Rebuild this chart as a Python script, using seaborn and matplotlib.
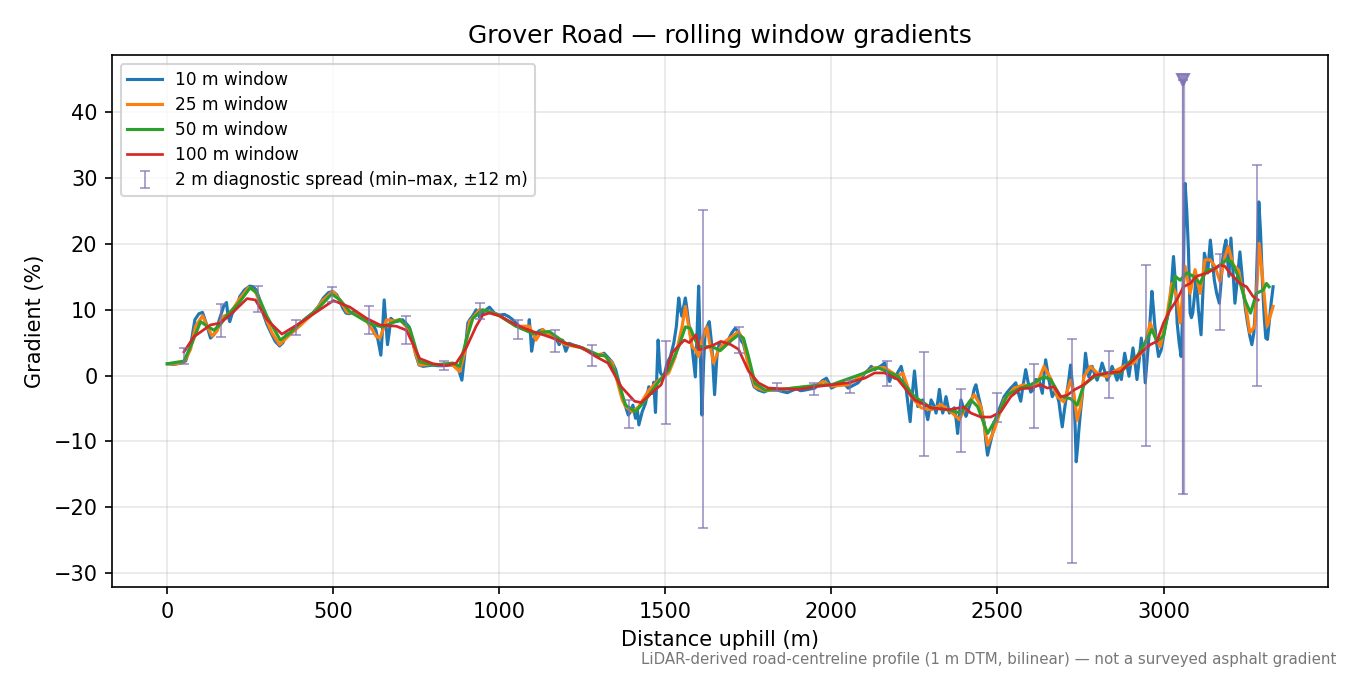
import numpy as np
import pandas as pd
import matplotlib
matplotlib.use("Agg")
import matplotlib.pyplot as plt
import seaborn as sns

# ---------------- data ----------------
d10 = [0, 20, 40, 55, 70, 83, 95, 106, 118, 130, 140, 148, 156, 163, 170, 178, 183, 188, 195, 202,
       210, 218, 232, 248, 258, 268, 278, 288, 300, 313, 325, 338, 348, 358, 370, 383, 395, 405, 413, 425,
       438, 455, 470, 485, 498, 510, 518, 528, 538, 548, 560, 572, 583, 595, 608, 618, 628, 636, 643, 648,
       653, 658, 663, 668, 673, 680, 688, 698, 708, 718, 728, 738, 748, 758, 770, 785, 800, 815, 830, 845,
       860, 870, 877, 887, 895, 905, 912, 920, 930, 940, 955, 970, 985, 1000, 1015, 1030, 1040, 1050, 1065, 1080,
       1087, 1090, 1094, 1097, 1103, 1110, 1120, 1130, 1140, 1150, 1160, 1170, 1180, 1190, 1200, 1210, 1225, 1240, 1255, 1270,
       1285, 1300, 1315, 1330, 1340, 1350, 1360, 1370, 1380, 1388, 1395, 1402, 1410, 1415, 1420, 1425, 1430, 1440, 1450, 1460,
       1465, 1470, 1474, 1478, 1482, 1485, 1495, 1505, 1515, 1525, 1533, 1540, 1545, 1550, 1555, 1560, 1565, 1570, 1580, 1590,
       1595, 1600, 1605, 1610, 1615, 1620, 1625, 1632, 1640, 1648, 1655, 1662, 1670, 1680, 1690, 1700, 1710, 1720, 1727, 1735,
       1747, 1757, 1767, 1780, 1797, 1810, 1820, 1837, 1850, 1867, 1880, 1895, 1907, 1920, 1940, 1950, 1960, 1972, 1985, 1993,
       2000, 2015, 2030, 2040, 2050, 2065, 2080, 2090, 2100, 2110, 2120, 2130, 2140, 2150, 2160, 2168, 2175, 2182, 2190, 2200,
       2210, 2218, 2225, 2231, 2237, 2243, 2250, 2255, 2260, 2268, 2275, 2283, 2290, 2296, 2300, 2308, 2315, 2320, 2325, 2330,
       2335, 2340, 2345, 2350, 2355, 2362, 2370, 2375, 2380, 2385, 2390, 2398, 2405, 2410, 2415, 2420, 2425, 2430, 2435, 2442,
       2450, 2455, 2460, 2465, 2470, 2477, 2485, 2492, 2500, 2510, 2520, 2530, 2540, 2548, 2555, 2562, 2570, 2577, 2585, 2592,
       2600, 2607, 2615, 2625, 2635, 2640, 2645, 2650, 2655, 2665, 2675, 2685, 2690, 2695, 2700, 2705, 2710, 2715, 2720, 2725,
       2730, 2734, 2737, 2741, 2745, 2750, 2755, 2760, 2765, 2770, 2775, 2785, 2792, 2800, 2808, 2815, 2822, 2830, 2837, 2845,
       2852, 2860, 2866, 2873, 2878, 2883, 2890, 2896, 2902, 2908, 2914, 2920, 2927, 2933, 2940, 2945, 2953, 2959, 2965, 2969,
       2973, 2979, 2985, 2993, 3000, 3005, 3012, 3018, 3025, 3030, 3036, 3041, 3047, 3053, 3058, 3061, 3065, 3070, 3075, 3080,
       3084, 3088, 3093, 3098, 3105, 3113, 3118, 3123, 3128, 3133, 3137, 3141, 3147, 3153, 3160, 3168, 3173, 3178, 3183, 3188,
       3193, 3197, 3200, 3203, 3209, 3215, 3222, 3230, 3236, 3241, 3247, 3253, 3260, 3266, 3272, 3278, 3283, 3287, 3292, 3298,
       3303, 3308, 3313, 3318, 3324, 3330]
g10 = [1.8, 1.7, 1.9, 2.2, 4.5, 8.5, 9.4, 9.6, 7.8, 5.7, 6.2, 6.9, 8.4, 9.5, 10.6, 11.1, 9.0, 8.2, 9.4, 10.0,
       10.5, 12.0, 13.0, 13.6, 13.5, 13.0, 11.5, 9.5, 7.8, 6.4, 5.2, 4.5, 5.0, 6.2, 6.5, 7.2, 7.6, 8.0, 8.5, 9.0,
       9.5, 10.5, 11.8, 12.6, 12.8, 12.3, 11.5, 10.3, 9.5, 9.4, 9.7, 9.3, 8.9, 8.6, 8.0, 7.8, 6.9, 5.0, 3.1, 7.0,
       11.5, 8.0, 4.7, 6.5, 8.7, 8.4, 8.2, 8.3, 8.5, 8.0, 7.4, 5.5, 3.2, 1.6, 1.4, 1.5, 1.6, 1.5, 1.5, 1.6,
       1.6, 1.2, 0.9, -0.7, 2.9, 8.0, 8.6, 9.1, 10.0, 8.9, 9.8, 10.4, 9.5, 9.2, 9.3, 8.9, 8.5, 8.0, 7.2, 7.0,
       6.8, 8.5, 6.0, 3.7, 5.5, 6.4, 6.8, 7.0, 6.5, 5.9, 6.3, 5.7, 4.7, 5.4, 3.7, 4.9, 4.6, 4.4, 4.0, 3.7,
       3.3, 3.0, 3.4, 2.6, 2.0, 0.9, -1.0, -3.2, -4.7, -6.0, -5.5, -4.5, -6.5, -5.0, -7.5, -6.5, -5.5, -4.2, -1.7, -2.7,
       -1.0, -5.6, 0.0, 5.4, 2.0, 0.4, -0.2, 1.9, 2.9, 4.9, 7.5, 11.8, 10.0, 9.0, 10.5, 11.8, 10.0, 8.0, 4.4, -0.2,
       6.0, 13.6, 4.0, -6.0, 2.0, 7.0, 7.4, 8.2, 4.4, -2.9, 2.9, 4.9, 4.4, 5.0, 5.5, 6.5, 7.2, 6.6, 5.4, 4.8,
       2.4, 0.0, -1.7, -2.2, -2.5, -2.2, -2.0, -2.2, -2.4, -2.6, -2.3, -2.0, -2.3, -2.2, -2.0, -1.9, -1.4, -0.8, -0.4, -1.2,
       -1.9, -1.5, -0.9, -1.3, -1.9, -1.5, -1.1, -0.5, 0.4, 0.8, 1.4, 0.9, 1.2, 1.5, 1.9, 0.2, -0.9, 0.2, -0.4, 0.5,
       1.4, -0.5, -2.1, -4.5, -7.0, -3.0, 0.7, -2.0, -4.7, -4.0, -3.7, -5.2, -6.7, -5.0, -3.7, -4.5, -5.7, -4.0, -2.1, -4.0,
       -5.7, -4.5, -3.2, -4.5, -5.7, -5.3, -4.9, -6.5, -8.8, -6.0, -3.7, -5.0, -6.2, -5.5, -4.7, -4.0, -3.2, -2.0, -1.4, -3.0,
       -4.7, -6.0, -7.2, -10.0, -12.1, -10.5, -8.8, -7.0, -5.7, -4.5, -3.2, -2.5, -1.9, -1.5, -1.1, -2.5, -3.9, -1.5, 0.9, -1.0,
       -2.5, -2.2, -0.6, -0.7, -2.7, 0.0, 2.4, 0.8, -0.7, -3.2, -2.2, -4.0, -6.0, -7.8, -5.8, -4.0, -2.2, -0.5, 1.6, -1.0,
       -3.2, -8.0, -13.1, -11.0, -8.3, -5.5, -3.2, 0.0, 3.4, 1.5, -0.2, 1.4, 0.3, -0.7, 0.5, 1.9, 0.8, -0.7, 0.0, 1.4,
       0.5, -0.7, 0.5, -0.6, 1.5, 3.4, 1.5, -0.1, 2.0, 4.2, 2.0, -0.6, 2.5, 5.7, 3.0, -1.1, 3.9, 8.0, 12.8, 10.5,
       8.0, 5.0, 2.9, 3.9, 6.0, 7.5, 9.0, 10.5, 14.5, 18.1, 14.0, 8.0, 5.0, 2.9, 10.0, 20.0, 29.2, 25.0, 19.1, 9.5,
       8.8, 9.5, 12.0, 15.1, 10.0, 6.2, 12.0, 18.6, 17.5, 15.6, 18.0, 20.6, 17.5, 14.5, 12.5, 11.0, 14.0, 17.6, 19.5, 20.6,
       17.5, 15.1, 18.0, 20.9, 16.0, 11.0, 14.5, 18.8, 15.5, 12.5, 10.0, 8.0, 6.0, 4.7, 6.5, 11.5, 20.0, 26.4, 22.0, 14.0,
       9.0, 5.7, 5.5, 8.0, 11.0, 13.5]

d25 = [0, 30, 50, 70, 85, 106, 120, 135, 150, 165, 190, 215, 245, 265, 290, 315, 338, 360, 400, 440,
       470, 498, 520, 540, 570, 600, 630, 640, 650, 660, 680, 700, 730, 745, 760, 800, 860, 880, 895, 910,
       940, 970, 1000, 1050, 1090, 1110, 1130, 1150, 1200, 1250, 1290, 1310, 1340, 1370, 1380, 1400, 1420, 1450, 1480, 1510,
       1530, 1550, 1560, 1570, 1580, 1590, 1600, 1610, 1625, 1635, 1645, 1660, 1680, 1700, 1720, 1735, 1750, 1770, 1800, 1850,
       1950, 1975, 2000, 2050, 2100, 2130, 2160, 2200, 2215, 2240, 2270, 2300, 2330, 2360, 2385, 2400, 2430, 2450, 2470, 2490,
       2520, 2550, 2580, 2600, 2620, 2640, 2660, 2680, 2700, 2720, 2730, 2740, 2750, 2760, 2780, 2800, 2830, 2850, 2880, 2910,
       2940, 2960, 2975, 2990, 3010, 3025, 3040, 3050, 3065, 3080, 3095, 3110, 3125, 3140, 3155, 3170, 3185, 3195, 3210, 3225,
       3245, 3260, 3275, 3288, 3300, 3312, 3330]
g25 = [1.8, 1.8, 2.0, 4.0, 7.5, 9.1, 7.5, 6.0, 6.8, 8.9, 9.5, 11.5, 13.4, 12.8, 9.5, 6.5, 4.7, 5.8, 7.6, 9.5,
       11.5, 12.8, 11.5, 9.7, 9.3, 8.3, 5.9, 5.7, 7.0, 8.5, 8.3, 8.5, 6.9, 3.8, 1.6, 1.7, 1.6, 0.6, 3.4, 8.2,
       10.0, 9.7, 9.1, 7.5, 7.5, 5.4, 7.0, 6.2, 4.7, 4.2, 3.1, 3.3, 1.9, -3.7, -4.7, -5.5, -4.7, -2.2, -0.7, 0.4,
       2.9, 7.4, 10.5, 7.4, 4.4, 3.9, 2.9, 5.4, 7.4, 4.4, 1.9, 3.9, 5.2, 5.9, 6.7, 5.4, 1.4, -1.7, -2.3, -2.1,
       -1.6, -0.9, -1.6, -1.4, 0.4, 1.2, 1.2, -0.1, 0.4, -3.2, -4.9, -5.2, -4.4, -5.5, -6.7, -5.2, -2.9, -4.7, -10.6, -8.3,
       -3.7, -1.9, -1.4, -1.7, -1.2, 1.4, -0.4, -3.2, -4.0, -0.7, -2.7, -6.8, -4.7, -0.2, 1.4, 0.4, -0.2, 0.6, 1.4, 1.9,
       3.9, 8.0, 6.0, 4.4, 9.0, 14.0, 12.0, 8.0, 16.6, 12.5, 16.1, 12.5, 17.6, 17.6, 16.6, 14.3, 18.1, 19.6, 16.8, 16.1,
       11.5, 6.5, 7.5, 20.1, 14.0, 7.5, 10.5]

d50 = [0, 50, 75, 100, 120, 140, 160, 180, 215, 250, 270, 300, 340, 370, 400, 450, 495, 520, 550, 590,
       620, 650, 700, 730, 760, 800, 860, 880, 900, 920, 950, 1000, 1050, 1100, 1150, 1200, 1250, 1300, 1320, 1350,
       1380, 1410, 1440, 1480, 1510, 1540, 1560, 1575, 1590, 1600, 1620, 1640, 1665, 1700, 1720, 1735, 1750, 1770, 1800, 1850,
       1950, 2000, 2100, 2140, 2200, 2250, 2300, 2350, 2390, 2420, 2440, 2470, 2500, 2530, 2570, 2600, 2640, 2660, 2690, 2720,
       2740, 2760, 2790, 2830, 2870, 2900, 2920, 2950, 2965, 2980, 3000, 3020, 3035, 3050, 3070, 3090, 3110, 3130, 3150, 3170,
       3190, 3205, 3225, 3245, 3262, 3280, 3300, 3310, 3318]
g50 = [1.8, 2.2, 5.0, 8.2, 7.5, 6.9, 7.8, 9.2, 11.0, 13.4, 12.5, 9.0, 5.4, 6.5, 8.0, 10.0, 12.4, 11.5, 9.7, 8.5,
       7.7, 7.4, 8.5, 7.2, 2.1, 1.6, 1.9, 1.4, 5.4, 8.7, 10.0, 9.1, 7.5, 6.4, 6.7, 4.9, 4.2, 3.1, 3.0, 0.4,
       -4.5, -5.5, -3.7, -0.9, 0.9, 4.4, 7.4, 7.2, 5.4, 4.4, 4.4, 4.4, 3.8, 5.4, 6.2, 5.7, 2.9, -1.2, -2.2, -2.1,
       -1.5, -1.4, 0.4, 1.2, -0.1, -3.2, -4.9, -5.2, -5.7, -3.7, -4.7, -8.8, -6.2, -2.9, -1.9, -1.4, -0.2, -0.6, -3.2, -3.5,
       -4.5, -1.4, -0.2, 0.4, 0.4, 2.2, 2.9, 5.5, 7.0, 5.2, 6.0, 11.0, 15.1, 14.5, 15.6, 15.1, 14.0, 16.1, 16.1, 16.8,
       17.6, 17.3, 15.1, 11.5, 9.5, 12.5, 13.0, 14.0, 13.5]

d100 = [50, 80, 130, 160, 195, 240, 265, 300, 345, 400, 450, 500, 550, 600, 640, 690, 720, 760, 800, 840,
        870, 900, 930, 950, 970, 1000, 1050, 1100, 1150, 1200, 1250, 1290, 1327, 1367, 1407, 1427, 1457, 1487, 1522, 1547,
        1557, 1572, 1592, 1602, 1622, 1647, 1667, 1697, 1720, 1750, 1780, 1810, 1850, 1900, 1950, 2000, 2050, 2100, 2130, 2160,
        2200, 2250, 2300, 2350, 2400, 2420, 2450, 2480, 2510, 2540, 2570, 2600, 2630, 2650, 2670, 2690, 2710, 2730, 2760, 2790,
        2830, 2870, 2900, 2930, 2960, 2980, 3000, 3020, 3040, 3060, 3080, 3100, 3130, 3150, 3170, 3185, 3200, 3230, 3250, 3270,
        3285]
g100 = [3.6, 5.9, 7.7, 8.0, 9.5, 11.7, 11.5, 8.5, 6.3, 8.0, 9.7, 11.4, 10.4, 8.7, 7.7, 7.5, 6.9, 2.6, 1.8, 1.5,
        1.9, 4.2, 7.5, 9.2, 9.5, 9.1, 7.7, 6.7, 5.9, 4.9, 4.2, 2.9, 1.9, -1.7, -3.9, -4.1, -2.7, -1.4, 3.6, 4.9,
        5.4, 5.0, 6.2, 3.9, 4.2, 4.7, 5.2, 4.7, 4.0, 0.7, -1.1, -1.9, -2.0, -2.1, -1.7, -1.4, -1.1, -0.4, 0.4, 0.4,
        -0.6, -3.7, -4.9, -5.2, -4.8, -5.7, -6.3, -6.3, -5.5, -3.2, -2.0, -1.9, -1.4, -1.9, -1.7, -3.2, -3.0, -2.2, -1.4, 0.0,
        0.4, 0.6, 1.9, 3.4, 4.7, 5.2, 8.0, 10.0, 11.5, 13.5, 14.0, 15.1, 15.6, 16.1, 16.8, 16.6, 15.6, 14.0, 13.5, 12.0,
        11.5]

spread_x = [50, 162, 274, 386, 497, 608, 719, 832, 943, 1055, 1167, 1279, 1390, 1501, 1612,
            1723, 1835, 1947, 2057, 2168, 2278, 2389, 2500, 2611, 2723, 2835, 2947, 3059, 3170, 3282]
spread_lo = [1.8, 5.9, 9.7, 6.2, 11.2, 6.3, 4.8, 0.9, 8.6, 5.6, 3.6, 1.5, -8.0, -7.3, -23.2,
             3.4, -2.4, -2.9, -2.6, -1.6, -12.2, -11.6, -7.1, -8.0, -28.5, -3.4, -10.7, -18.0, 7.0, -1.6]
spread_hi = [4.2, 10.9, 13.6, 8.4, 13.5, 10.6, 9.0, 2.2, 11.1, 8.4, 6.9, 4.7, -3.7, 5.3, 25.2,
             7.4, -1.2, -1.2, -0.6, 2.2, 3.6, -2.0, -2.7, 1.8, 5.5, 3.8, 16.8, 45.0, 18.5, 32.0]
clip_x = [3059]
clip_lo = [-18.0]
clip_hi = [45.0]

series = [
    ("10 m window", d10, g10, "#1f77b4", 1.5),
    ("25 m window", d25, g25, "#ff7f0e", 1.5),
    ("50 m window", d50, g50, "#2ca02c", 1.5),
    ("100 m window", d100, g100, "#d62728", 1.3),
]

# ---------------- figure ----------------
fig, ax = plt.subplots(figsize=(9, 4.5), dpi=150)
fig.subplots_adjust(left=0.083, right=0.984, top=0.918, bottom=0.130)

for label, xs, ys, col, lw in series:
    df = pd.DataFrame({"x": xs, "y": ys})
    sns.lineplot(data=df, x="x", y="y", color=col, linewidth=lw, label=label,
                 ax=ax, sort=False, estimator=None)

sx = np.array(spread_x, float)
lo = np.array(spread_lo, float)
hi = np.array(spread_hi, float)
mid = (lo + hi) / 2
half = (hi - lo) / 2
ax.errorbar(sx, mid, yerr=half, fmt="none", ecolor="#8172b3", alpha=0.68,
            elinewidth=0.9, capsize=2.2, capthick=0.9,
            label="2 m diagnostic spread (min\u2013max, \u00b112 m)", zorder=3)
ax.vlines(clip_x, clip_lo, clip_hi, color="#8172b3", alpha=0.6, linewidth=1.6, zorder=3)
ax.plot(clip_x, clip_hi, linestyle="none", marker="v", markersize=6,
        color="#8172b3", alpha=0.85, zorder=4)

ax.set_title("Grover Road \u2014 rolling window gradients", fontsize=12)
ax.set_xlabel("Distance uphill (m)", fontsize=10)
ax.set_ylabel("Gradient (%)", fontsize=10)
ax.grid(True, alpha=0.3)
ax.legend(loc="upper left", fontsize=8.2, labelspacing=0.42)

fig.text(0.99, 0.012,
         "LiDAR-derived road-centreline profile (1 m DTM, bilinear) \u2014 not a surveyed asphalt gradient",
         ha="right", va="bottom", fontsize=7.2, color="#777777")

fig.savefig("out.png", dpi=150)
